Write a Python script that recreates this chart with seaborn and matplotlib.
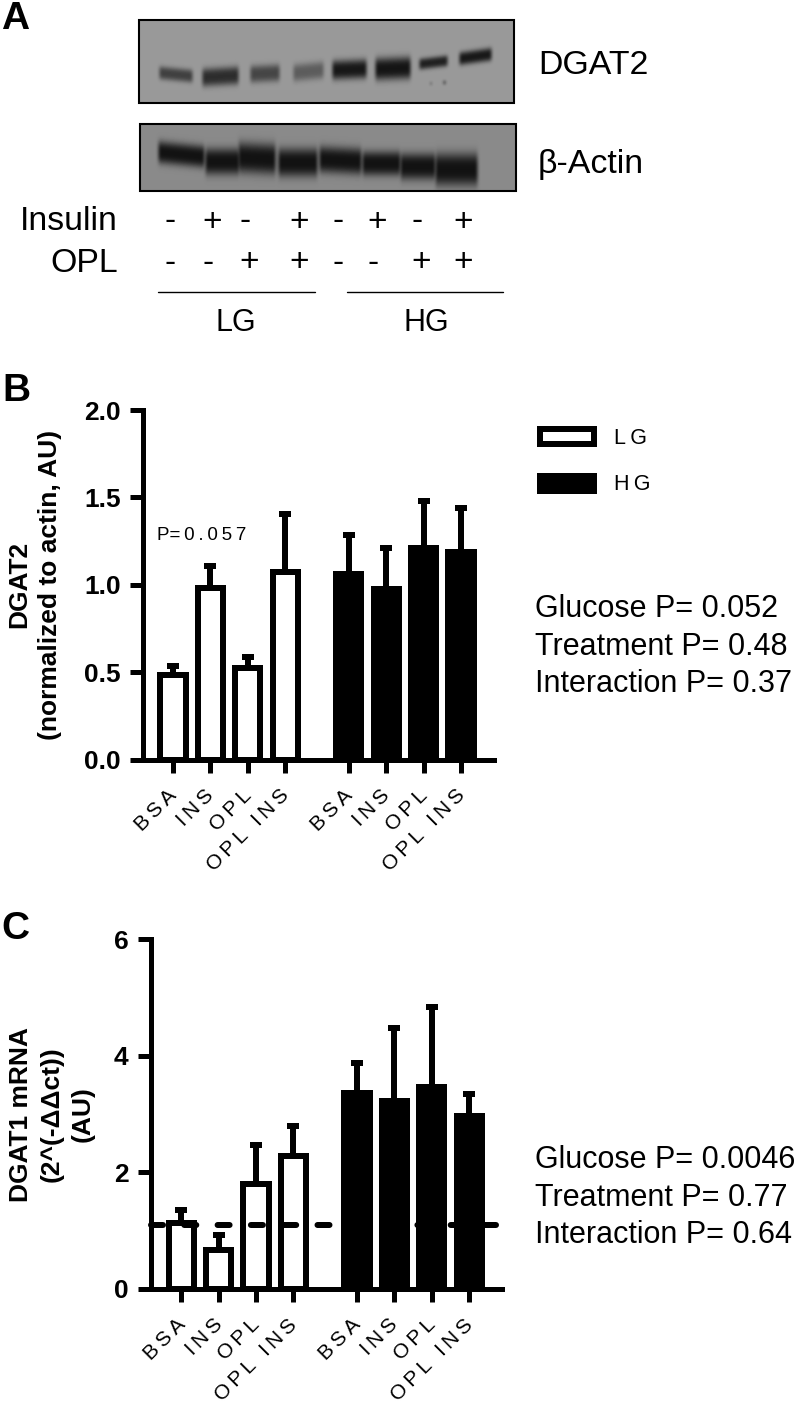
import numpy as np
import pandas as pd
import matplotlib
matplotlib.use("Agg")
import matplotlib.pyplot as plt
from matplotlib.patches import Rectangle
from matplotlib.transforms import ScaledTranslation
import seaborn as sns

W, H = 800, 1403

# ── data ──────────────────────────────────────────────────────────────────────
treatments = ["BSA", "INS", "OPL", "OPL INS"]
groups = ["LG"] * 4 + ["HG"] * 4
bar_pos = [0, 1, 2, 3, 4.7, 5.7, 6.7, 7.7]

dgat2_mean = [0.481, 0.981, 0.523, 1.071, 1.063, 0.975, 1.213, 1.189]
dgat2_err_top = [0.536, 1.105, 0.586, 1.403, 1.283, 1.212, 1.477, 1.441]

dgat1_mean = [1.134, 0.676, 1.81, 2.28, 3.36, 3.23, 3.47, 2.97]
dgat1_err_top = [1.36, 0.93, 2.47, 2.80, 3.87, 4.47, 4.84, 3.34]
dgat1_ref = 1.1

stats_b = ["Glucose P= 0.052", "Treatment P= 0.48", "Interaction P= 0.37"]
stats_c = ["Glucose P= 0.0046", "Treatment P= 0.77", "Interaction P= 0.64"]
insulin_signs = ["-", "+", "-", "+", "-", "+", "-", "+"]
opl_signs = ["-", "-", "+", "+", "-", "-", "+", "+"]
insulin_x = [170, 212, 245, 299, 338, 377, 417, 463]
opl_x = [170, 208, 249, 299, 338, 373, 421, 463]

# blot bands: x0, x1, y centre, half height, darkness, tilt (px per px)
dgat2_bands = [
    (157, 194, 74, 6.5, 0.66, 0.10), (200, 240, 76, 9, 0.80, -0.06), (248, 281, 73, 8.5, 0.62, -0.05),
    (291, 325, 71, 8.5, 0.45, -0.10), (330, 368, 69, 9.5, 0.96, -0.04), (373, 412, 68, 11, 0.98, -0.04),
    (417, 449, 62, 5.5, 0.90, -0.12), (457, 493, 56, 6.5, 0.96, -0.14),
    (429, 432, 83, 1.5, 0.35, 0), (442, 446, 82, 2, 0.45, 0),
]
actin_bands = [
    (156, 206, 154, 11, 1.0, 0.10), (203, 241, 161, 13, 1.0, 0.0), (236, 277, 158, 15, 1.0, 0.05),
    (276, 319, 162, 14, 1.0, 0.0), (317, 363, 160, 13, 1.0, 0.05), (360, 402, 163, 12, 1.0, 0.0),
    (398, 437, 166, 13, 1.0, 0.0), (433, 479, 169, 16, 1.0, 0.0),
]

# ── style ─────────────────────────────────────────────────────────────────────
sns.set_theme(style="ticks")
plt.rcParams["font.family"] = ["Liberation Sans", "DejaVu Sans"]
plt.rcParams["text.color"] = "black"
plt.rcParams["axes.labelcolor"] = "black"
plt.rcParams["xtick.color"] = "black"
plt.rcParams["ytick.color"] = "black"

STROKE = 6 * 0.72       # 6 px in points
AXIS_LW = 5 * 0.72
TRACK = "\u2009"


def tracked(s):
    return TRACK.join(s)


def axes_px(fig, left, top, right, bottom):
    return fig.add_axes([left / W, 1 - bottom / H, (right - left) / W, (bottom - top) / H])


def draw_panel(fig, box, xlim, means, err_tops, ylim, yticks, yfmt, ylabel, label_x):
    ax = axes_px(fig, *box)
    df = pd.DataFrame({"pos": bar_pos, "mean": means, "group": groups})
    sns.barplot(data=df, x="pos", y="mean", hue="group", native_scale=True, dodge=False,
                palette={"LG": "white", "HG": "black"}, saturation=1, width=0.677,
                edgecolor="black", linewidth=STROKE, errorbar=None, legend=False, ax=ax)
    upper = np.array(err_tops) - np.array(means)
    ax.errorbar(bar_pos, means, yerr=[np.zeros(8), upper], fmt="none", ecolor="black",
                elinewidth=STROKE, capsize=STROKE, capthick=STROKE, zorder=5)
    ax.set_xlim(*xlim)
    ax.set_ylim(*ylim)
    ax.set_yticks(yticks, [yfmt.format(t) for t in yticks],
                  fontsize=19, fontweight="bold")
    ax.set_xticks(bar_pos, [tracked(t) for t in treatments * 2], fontsize=15,
                  rotation=45, ha="right", rotation_mode="anchor")
    ax.tick_params(length=9.4, width=AXIS_LW)
    ax.tick_params(axis="x", pad=8)
    ax.tick_params(axis="y", pad=6.5)
    # labels sit a little left of their ticks in the reference
    # (after tick_params, which resets the label transforms)
    shift = ScaledTranslation(-6 / 100, -2 / 100, fig.dpi_scale_trans)
    for lab in ax.get_xticklabels():
        lab.set_transform(lab.get_transform() + shift)
    sns.despine(ax=ax)
    for side in ("left", "bottom"):
        ax.spines[side].set_linewidth(AXIS_LW)
        ax.spines[side].set_color("black")
    ax.set_xlabel("")
    ax.set_ylabel(ylabel, fontsize=19, fontweight="bold", linespacing=1.36)
    ax.yaxis.set_label_coords(label_x, 0.5)
    return ax


def blot_image(x0, y0, x1, y1, bands, bg):
    xs, ys = np.meshgrid(np.arange(x0, x1), np.arange(y0, y1))
    absorb = np.zeros_like(xs, dtype=float)
    for bx0, bx1, yc, hh, dark, tilt in bands:
        edge = 4.0 if bx1 - bx0 > 10 else 1.0
        px = np.clip((xs - bx0) / edge, 0, 1) * np.clip((bx1 - xs) / edge, 0, 1)
        cy = yc + tilt * (xs - (bx0 + bx1) / 2)
        py = np.exp(-(np.abs(ys - cy) / hh) ** 3)
        absorb = np.maximum(absorb, dark * px * py)
    kernel = np.array([1, 2, 3, 2, 1]) / 9
    absorb = np.apply_along_axis(lambda r: np.convolve(r, kernel, mode="same"), 0, absorb)
    absorb = np.apply_along_axis(lambda r: np.convolve(r, kernel, mode="same"), 1, absorb)
    return bg * (1 - absorb) + 0.07 * absorb


fig = plt.figure(figsize=(W / 100, H / 100), dpi=100)

# ── B. DGAT2 protein ──────────────────────────────────────────────────────────
draw_panel(fig, (143, 410, 494, 759.5), (-0.80, 8.58), dgat2_mean, dgat2_err_top,
           (0, 2), [0, 0.5, 1.0, 1.5, 2.0], "{:.1f}",
           "DGAT2\n(normalized to actin, AU)", -0.23)

# ── C. DGAT1 mRNA ─────────────────────────────────────────────────────────────
ax_c = draw_panel(fig, (150.7, 939.3, 501.7, 1289), (-0.82, 8.57), dgat1_mean, dgat1_err_top,
                  (0, 6), [0, 2, 4, 6], "{:.0f}",
                  "DGAT1 mRNA\n(2^(-\u0394\u0394ct))\n(AU)", -0.159)
ax_c.plot([-0.82, 8.45], [dgat1_ref, dgat1_ref], color="black", lw=STROKE,
          ls=(0, (2, 3.55)), dash_capstyle="round", zorder=6, clip_on=False)

# ── overlay in pixel coordinates ──────────────────────────────────────────────
ov = fig.add_axes([0, 0, 1, 1], zorder=10)
ov.axis("off")
ov.patch.set_alpha(0)

for (x0, y0, x1, y1), bands, bg in [((139, 20, 514, 103), dgat2_bands, 0.60),
                                    ((140, 124, 516, 191), actin_bands, 0.54)]:
    ov.imshow(blot_image(x0, y0, x1, y1, bands, bg), extent=(x0, x1, y1, y0), cmap="gray",
              vmin=0, vmax=1, aspect="auto", interpolation="bilinear")
    ov.add_patch(Rectangle((x0, y0), x1 - x0, y1 - y0, fill=False, ec="black", lw=1.5))
ov.set_xlim(0, W)
ov.set_ylim(H, 0)

for letter, x, y in [("A", 1, 19), ("B", 2, 391), ("C", 1, 929)]:
    ov.text(x, y, letter, fontsize=28, fontweight="bold", va="center", ha="left")

ov.text(538, 65, "DGAT2", fontsize=24.4, va="center")
ov.text(538, 164, "\u03b2-Actin", fontsize=24.4, va="center")
ov.text(118, 222, "Insulin", fontsize=24.4, va="center", ha="right")
ov.text(118, 264, "OPL", fontsize=24.4, va="center", ha="right")
for x, s in zip(insulin_x, insulin_signs):
    ov.text(x, 222, s, fontsize=24, va="center", ha="center")
for x, s in zip(opl_x, opl_signs):
    ov.text(x, 263, s, fontsize=24, va="center", ha="center")
ov.plot([158, 315], [292, 292], color="black", lw=1)
ov.plot([347, 503], [292, 292], color="black", lw=1)
ov.text(236, 323, "LG", fontsize=22, va="center", ha="center")
ov.text(426, 323, "HG", fontsize=22, va="center", ha="center")

# legend of panel B
ov.add_patch(Rectangle((540, 429), 54, 15, fc="white", ec="black", lw=STROKE))
ov.add_patch(Rectangle((540, 476), 54, 15, fc="black", ec="black", lw=STROKE))
ov.text(614, 438, tracked("LG"), fontsize=15.5, va="center")
ov.text(614, 485, tracked("HG"), fontsize=15.5, va="center")

ov.text(157, 536, "P=" + TRACK + TRACK.join("0.057"), fontsize=13.5, va="center")

for lines, ys in [(stats_b, (609, 647, 684)), (stats_c, (1160, 1198, 1235))]:
    for line, y in zip(lines, ys):
        ov.text(535, y, line, fontsize=22, va="center")

fig.savefig("out.png", dpi=100)
